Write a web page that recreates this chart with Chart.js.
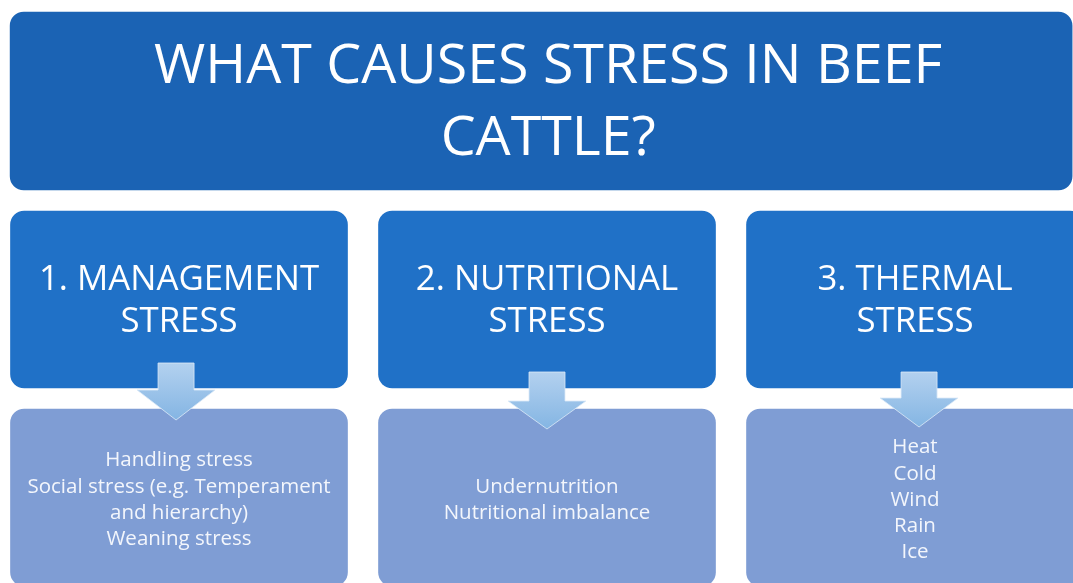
<!DOCTYPE html>
<html>
<head>
<meta charset="utf-8">
<script src="https://cdn.jsdelivr.net/npm/chart.js@4.4.0/dist/chart.umd.min.js"></script>
<style>
  html, body { margin: 0; padding: 0; background: #ffffff; }
  #wrap { width: 1073px; height: 583px; }
</style>
</head>
<body>
<div id="wrap"><canvas id="causeChart"></canvas></div>
<script>
// text content
const titleLines = ['WHAT CAUSES STRESS IN BEEF', 'CATTLE?'];
const stressTypes = [
    ['1. MANAGEMENT', 'STRESS'],
    ['2. NUTRITIONAL', 'STRESS'],
    ['3. THERMAL', 'STRESS']
];
const stressCauses = [
    ['Handling stress', 'Social stress (e.g. Temperament', 'and hierarchy)', 'Weaning stress'],
    ['Undernutrition', 'Nutritional imbalance'],
    ['Heat', 'Cold', 'Wind', 'Rain', 'Ice']
];

// layout: columns are 0,1,2 on the x axis, y axis runs top -> bottom
const titleBand = [12, 190];
const typeBand = [211, 388];
const causeBand = [409, 586];
const titleCol = 0.984;
// arrow: [x offset in columns, shaft top, head top, tip]
const arrowShapes = [
    [-0.008, 363, 390, 420],
    [0, 372, 401, 429],
    [0.011, 372, 398, 427]
];

const FONT = '"Open Sans", "DejaVu Sans", sans-serif';

function drawLines(ctx, lines, cx, cy, size, lineHeight, color) {
    ctx.save();
    ctx.font = `${size}px ${FONT}`;
    ctx.fillStyle = color;
    ctx.textAlign = 'center';
    ctx.textBaseline = 'alphabetic';
    const first = cy - (lines.length - 1) * lineHeight / 2;
    lines.forEach((line, i) => {
        ctx.fillText(line, cx, first + i * lineHeight + size * 0.36);
    });
    ctx.restore();
}

const arrowPlugin = {
    id: 'arrows',
    afterDatasetsDraw(chart) {
        const { ctx, scales: { x, y } } = chart;
        arrowShapes.forEach((a, i) => {
            const cx = x.getPixelForValue(i + a[0]);
            const top = y.getPixelForValue(a[1]);
            const headTop = y.getPixelForValue(a[2]);
            const tip = y.getPixelForValue(a[3]);
            const shaft = 18, head = 39;
            const grad = ctx.createLinearGradient(0, top, 0, tip);
            grad.addColorStop(0, '#b3d1ef');
            grad.addColorStop(1, '#84b5e3');
            ctx.save();
            ctx.beginPath();
            ctx.moveTo(cx - shaft, top);
            ctx.lineTo(cx + shaft, top);
            ctx.lineTo(cx + shaft, headTop);
            ctx.lineTo(cx + head, headTop);
            ctx.lineTo(cx, tip);
            ctx.lineTo(cx - head, headTop);
            ctx.lineTo(cx - shaft, headTop);
            ctx.closePath();
            ctx.fillStyle = grad;
            ctx.fill();
            ctx.lineWidth = 1;
            ctx.strokeStyle = 'rgba(220,234,248,0.8)';
            ctx.stroke();
            ctx.restore();
        });
    }
};

const textPlugin = {
    id: 'boxText',
    afterDraw(chart) {
        const { ctx, scales: { x, y } } = chart;
        const mid = band => (y.getPixelForValue(band[0]) + y.getPixelForValue(band[1])) / 2;
        drawLines(ctx, titleLines, x.getPixelForValue(titleCol) + 7, mid(titleBand) - 2, 55.5, 72, '#ffffff');
        stressTypes.forEach((lines, i) => {
            drawLines(ctx, lines, x.getPixelForValue(i), mid(typeBand) - 1, 34.8, 42, '#ffffff');
        });
        stressCauses.forEach((lines, i) => {
            drawLines(ctx, lines, x.getPixelForValue(i), mid(causeBand) + 1, 20.5, 26.3, '#f3f6fc');
        });
    }
};

const cols = stressTypes.map((t, i) => i);

new Chart(document.getElementById('causeChart'), {
    type: 'bar',
    data: {
        datasets: [{
            label: 'title',
            data: [{ x: titleCol, y: titleBand }],
            backgroundColor: '#1b63b4',
            barThickness: 1062,
            borderRadius: 14,
            borderSkipped: false,
            grouped: false
        }, {
            label: 'stress type',
            data: cols.map(i => ({ x: i, y: typeBand })),
            backgroundColor: '#2071c7',
            barThickness: 337,
            borderRadius: 14,
            borderSkipped: false,
            grouped: false
        }, {
            label: 'causes',
            data: cols.map(i => ({ x: i, y: causeBand })),
            backgroundColor: '#7f9dd4',
            barThickness: 337,
            borderRadius: 14,
            borderSkipped: false,
            grouped: false
        }]
    },
    options: {
        responsive: true,
        maintainAspectRatio: false,
        animation: false,
        layout: { padding: 0 },
        plugins: {
            legend: { display: false },
            tooltip: { enabled: false }
        },
        scales: {
            x: { type: 'linear', min: -0.4864, max: 2.4293, offset: false, display: false },
            y: { type: 'linear', min: 0, max: 583, reverse: true, display: false }
        }
    },
    plugins: [arrowPlugin, textPlugin]
});
</script>
</body>
</html>
